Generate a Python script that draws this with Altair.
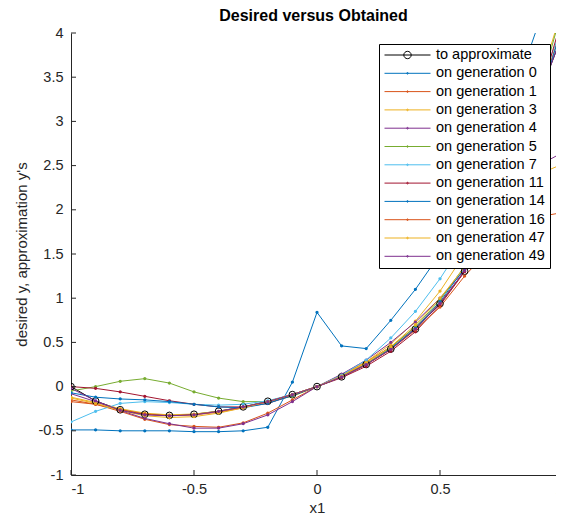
import altair as alt
import pandas as pd

# ---------------- data ----------------
x_vals = [-1.0, -0.9, -0.8, -0.7, -0.6, -0.5, -0.4, -0.3, -0.2, -0.1,
          0.0, 0.1, 0.2, 0.3, 0.4, 0.5, 0.6, 0.7, 0.8, 0.9, 1.0]

series_names = ["to approximate", "on generation 0", "on generation 1", "on generation 3",
                "on generation 4", "on generation 5", "on generation 7", "on generation 11",
                "on generation 14", "on generation 16", "on generation 47", "on generation 49"]

series_colors = ["#000000", "#0072BD", "#D95319", "#EDB120", "#7E2F8E", "#77AC30",
                 "#4DBEEE", "#A2142F", "#0072BD", "#D95319", "#EDB120", "#7E2F8E"]

y_target = [0.0, -0.163, -0.262, -0.313, -0.326, -0.313, -0.278, -0.229, -0.166, -0.091,
            0.0, 0.111, 0.250, 0.425, 0.650, 0.938, 1.306, 1.821, 2.482, 3.266, 4.0]
y_gen0 = [-0.49, -0.49, -0.50, -0.50, -0.50, -0.51, -0.51, -0.50, -0.46, 0.05,
          0.84, 0.46, 0.43, 0.75, 1.10, 1.50, 2.00, 2.60, 3.30, 4.10, 5.00]
y_gen1 = [-0.15, -0.20, -0.28, -0.37, -0.43, -0.45, -0.46, -0.41, -0.30, -0.15,
          0.0, 0.13, 0.28, 0.45, 0.67, 0.95, 1.30, 1.80, 2.45, 3.25, 4.10]
y_gen3 = [-0.12, -0.18, -0.25, -0.30, -0.32, -0.31, -0.28, -0.23, -0.17, -0.09,
          0.0, 0.12, 0.28, 0.48, 0.74, 1.08, 1.50, 2.02, 2.65, 3.40, 4.30]
y_gen4 = [-0.08, -0.17, -0.27, -0.36, -0.42, -0.47, -0.47, -0.42, -0.32, -0.17,
          0.0, 0.14, 0.30, 0.50, 0.73, 1.00, 1.32, 1.75, 2.15, 2.50, 2.65]
y_gen5 = [-0.05, 0.00, 0.06, 0.09, 0.04, -0.06, -0.13, -0.17, -0.17, -0.11,
          0.0, 0.12, 0.26, 0.44, 0.68, 0.98, 1.36, 1.85, 2.50, 3.30, 4.30]
y_gen7 = [-0.40, -0.28, -0.19, -0.17, -0.18, -0.20, -0.21, -0.20, -0.16, -0.09,
          0.0, 0.13, 0.30, 0.55, 0.85, 1.22, 1.65, 2.15, 2.72, 3.35, 4.10]
y_gen11 = [0.0, -0.02, -0.06, -0.11, -0.16, -0.20, -0.23, -0.23, -0.19, -0.10,
           0.0, 0.10, 0.23, 0.40, 0.62, 0.92, 1.30, 1.80, 2.45, 3.25, 4.20]
y_gen14 = [-0.07, -0.12, -0.14, -0.15, -0.17, -0.20, -0.23, -0.24, -0.19, -0.10,
           0.0, 0.11, 0.25, 0.43, 0.66, 0.96, 1.34, 1.83, 2.45, 3.20, 4.10]
y_gen16 = [-0.17, -0.20, -0.26, -0.31, -0.33, -0.32, -0.29, -0.24, -0.17, -0.09,
           0.0, 0.11, 0.25, 0.42, 0.64, 0.90, 1.25, 1.55, 1.78, 1.92, 1.97]
y_gen47 = [-0.13, -0.19, -0.27, -0.33, -0.35, -0.34, -0.30, -0.24, -0.17, -0.09,
           0.0, 0.12, 0.27, 0.45, 0.70, 1.00, 1.35, 1.75, 2.10, 2.40, 2.52]
y_gen49 = [-0.02, -0.16, -0.27, -0.32, -0.33, -0.32, -0.28, -0.23, -0.17, -0.09,
           0.0, 0.11, 0.25, 0.42, 0.65, 0.94, 1.31, 1.82, 2.48, 3.27, 4.00]

series_values = [y_target, y_gen0, y_gen1, y_gen3, y_gen4, y_gen5, y_gen7,
                 y_gen11, y_gen14, y_gen16, y_gen47, y_gen49]

x_ticks = [-1, -0.5, 0, 0.5, 1]
y_ticks = [-1, -0.5, 0, 0.5, 1, 1.5, 2, 2.5, 3, 3.5, 4]

rows = []
for k, (name, ys) in enumerate(zip(series_names, series_values)):
    for xv, yv in zip(x_vals, ys):
        rows.append({"x": xv, "y": yv, "series": name, "k": k})
df = pd.DataFrame(rows)

FONT = "Liberation Sans"
AXC = "#262626"
W, H = 485, 442       # visible view (page is 564 wide)
XRANGE = 492          # full axes width, the right part falls off the page as in the original

xscale = alt.Scale(domain=[-1, 1], nice=False, zero=False, range=[0, XRANGE])
yscale = alt.Scale(domain=[-1, 4], nice=False, zero=False)
cscale = alt.Scale(domain=series_names, range=series_colors)

target_path = "M-1,0H1M0.16,0A0.16,0.16,0,1,1,-0.16,0A0.16,0.16,0,1,1,0.16,0"
dot_path = "M-1,0H1M0.035,0A0.035,0.035,0,1,1,-0.035,0A0.035,0.035,0,1,1,0.035,0"
shape_expr = ("datum.value === 'to approximate' ? '" + target_path + "' : '" + dot_path + "'")

legend = alt.Legend(
    orient="none", legendX=308, legendY=11,
    padding=5, strokeColor="black", fillColor="white",
    labelFont=FONT, labelFontSize=14.5, labelColor="#000000",
    symbolType=alt.ExprRef(expr=shape_expr), symbolSize=2116, symbolStrokeWidth=1,
    symbolOpacity=1, symbolFillColor="transparent",
    clipHeight=12, rowPadding=3.3, labelOffset=5, symbolOffset=0,
)

xaxis = alt.Axis(values=x_ticks, labelExpr="'' + datum.value", title="x1",
                 tickSize=0, labelPadding=7, titlePadding=5, grid=False,
                 labelFont=FONT, labelFontSize=14.5, labelColor=AXC,
                 titleFont=FONT, titleFontSize=15, titleColor=AXC, titleFontWeight="normal",
                 domainColor=AXC, domainWidth=1)
yaxis = alt.Axis(values=y_ticks, labelExpr="'' + datum.value", title="desired y, approximation y's",
                 tickSize=0, labelPadding=8, titlePadding=9, grid=False,
                 labelFont=FONT, labelFontSize=14.5, labelColor=AXC,
                 titleFont=FONT, titleFontSize=15, titleColor=AXC, titleFontWeight="normal",
                 domainColor=AXC, domainWidth=1)

base = alt.Chart(df)

lines = base.mark_line(strokeWidth=1, clip=True).encode(
    x=alt.X("x:Q", scale=xscale, axis=xaxis),
    y=alt.Y("y:Q", scale=yscale, axis=yaxis),
    color=alt.Color("series:N", scale=cscale, legend=legend, title=None),
    detail="series:N",
)

dots = base.transform_filter(alt.datum.series != "to approximate").mark_point(
    filled=False, size=3, strokeWidth=1.5, opacity=1, clip=True
).encode(
    x=alt.X("x:Q", scale=xscale, axis=xaxis),
    y=alt.Y("y:Q", scale=yscale, axis=yaxis),
    color=alt.Color("series:N", scale=cscale, legend=None),
)

circles = base.transform_filter(alt.datum.series == "to approximate").mark_point(
    shape="circle", filled=False, size=45, strokeWidth=1, color="black", opacity=1, clip=True
).encode(
    x=alt.X("x:Q", scale=xscale, axis=xaxis),
    y=alt.Y("y:Q", scale=yscale, axis=yaxis),
)

xt = alt.Chart(pd.DataFrame({"t": x_ticks})).mark_rule(color=AXC, strokeWidth=1).encode(
    x=alt.X("t:Q", scale=xscale, axis=xaxis),
    y=alt.value(H), y2=alt.value(H - 5),
)
yt = alt.Chart(pd.DataFrame({"t": y_ticks})).mark_rule(color=AXC, strokeWidth=1).encode(
    y=alt.Y("t:Q", scale=yscale, axis=yaxis),
    x=alt.value(0), x2=alt.value(5),
)

chart = alt.layer(lines, circles, dots, xt, yt).properties(
    width=W, height=H,
    background="white",
    title=alt.Title("Desired versus Obtained", font=FONT, fontSize=16, fontWeight="bold",
                    color="#000000", anchor="middle", offset=1),
    autosize=alt.AutoSizeParams(type="none"),
    padding={"left": 63, "top": 25, "right": 0, "bottom": 40},
).configure_view(stroke=None)

chart.save("out.html", embed_options={"renderer": "svg", "actions": False})
